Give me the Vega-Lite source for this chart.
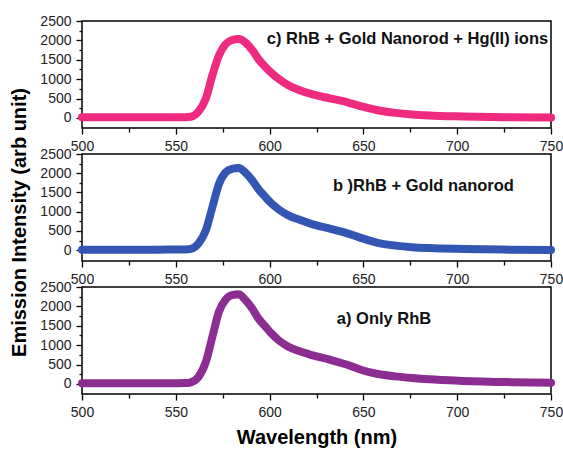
{
  "$schema": "https://vega.github.io/schema/vega-lite/v6.json",
  "padding": {"left": 9, "top": 13, "right": 0, "bottom": 4},
  "background": "white",
  "config": {
    "font": "Liberation Sans",
    "view": {"stroke": "#000", "strokeWidth": 1.5},
    "axis": {
      "labelFont": "Liberation Sans", "labelFontSize": 14, "labelColor": "#222", "labelOverlap": false, "labelFlush": false, "format": "d", "tickCount": 30,
      "domain": false, "grid": false, "tickColor": "#000", "tickWidth": 1.3,
      "titleFont": "Liberation Sans", "titleFontSize": 20, "titleFontWeight": "bold", "titleColor": "#000"
    }
  },
  "datasets": {
    "spectra": [
      {"s":"c","nm":500,"v":15},{"s":"c","nm":510,"v":15},{"s":"c","nm":520,"v":15},{"s":"c","nm":530,"v":15},{"s":"c","nm":540,"v":15},{"s":"c","nm":550,"v":18},{"s":"c","nm":555,"v":20},{"s":"c","nm":558,"v":32},{"s":"c","nm":562,"v":160},{"s":"c","nm":566,"v":500},{"s":"c","nm":569.5,"v":1100},{"s":"c","nm":573,"v":1610},{"s":"c","nm":576.5,"v":1900},{"s":"c","nm":580,"v":2010},{"s":"c","nm":583.5,"v":2035},{"s":"c","nm":587,"v":1950},{"s":"c","nm":591,"v":1735},{"s":"c","nm":594,"v":1520},{"s":"c","nm":598,"v":1300},{"s":"c","nm":601,"v":1160},{"s":"c","nm":605,"v":1000},{"s":"c","nm":610,"v":845},{"s":"c","nm":616,"v":715},{"s":"c","nm":623,"v":605},{"s":"c","nm":632,"v":505},{"s":"c","nm":641,"v":410},{"s":"c","nm":649,"v":300},{"s":"c","nm":657,"v":205},{"s":"c","nm":667,"v":130},{"s":"c","nm":676,"v":88},{"s":"c","nm":685,"v":62},{"s":"c","nm":703,"v":36},{"s":"c","nm":729,"v":15},{"s":"c","nm":750,"v":8},
      {"s":"b","nm":500,"v":10},{"s":"b","nm":510,"v":10},{"s":"b","nm":520,"v":12},{"s":"b","nm":530,"v":14},{"s":"b","nm":540,"v":15},{"s":"b","nm":550,"v":18},{"s":"b","nm":555,"v":20},{"s":"b","nm":558,"v":36},{"s":"b","nm":562,"v":170},{"s":"b","nm":566,"v":515},{"s":"b","nm":569.5,"v":1117},{"s":"b","nm":573,"v":1720},{"s":"b","nm":576.5,"v":2020},{"s":"b","nm":580,"v":2115},{"s":"b","nm":583.5,"v":2135},{"s":"b","nm":587,"v":2020},{"s":"b","nm":591,"v":1800},{"s":"b","nm":594,"v":1590},{"s":"b","nm":598,"v":1370},{"s":"b","nm":601,"v":1215},{"s":"b","nm":605,"v":1055},{"s":"b","nm":610,"v":905},{"s":"b","nm":616,"v":790},{"s":"b","nm":623,"v":672},{"s":"b","nm":632,"v":560},{"s":"b","nm":641,"v":445},{"s":"b","nm":649,"v":315},{"s":"b","nm":657,"v":200},{"s":"b","nm":667,"v":120},{"s":"b","nm":676,"v":78},{"s":"b","nm":685,"v":55},{"s":"b","nm":703,"v":32},{"s":"b","nm":729,"v":14},{"s":"b","nm":750,"v":8},
      {"s":"a","nm":500,"v":15},{"s":"a","nm":510,"v":15},{"s":"a","nm":520,"v":15},{"s":"a","nm":530,"v":15},{"s":"a","nm":540,"v":15},{"s":"a","nm":550,"v":18},{"s":"a","nm":555,"v":22},{"s":"a","nm":558,"v":42},{"s":"a","nm":562,"v":175},{"s":"a","nm":566,"v":565},{"s":"a","nm":569.5,"v":1215},{"s":"a","nm":573,"v":1867},{"s":"a","nm":576.5,"v":2170},{"s":"a","nm":580,"v":2290},{"s":"a","nm":583.5,"v":2310},{"s":"a","nm":587,"v":2170},{"s":"a","nm":591,"v":1927},{"s":"a","nm":594,"v":1690},{"s":"a","nm":598,"v":1465},{"s":"a","nm":601,"v":1300},{"s":"a","nm":605,"v":1120},{"s":"a","nm":610,"v":960},{"s":"a","nm":616,"v":840},{"s":"a","nm":623,"v":737},{"s":"a","nm":632,"v":625},{"s":"a","nm":641,"v":500},{"s":"a","nm":649,"v":360},{"s":"a","nm":657,"v":262},{"s":"a","nm":667,"v":195},{"s":"a","nm":676,"v":152},{"s":"a","nm":685,"v":118},{"s":"a","nm":703,"v":78},{"s":"a","nm":729,"v":46},{"s":"a","nm":750,"v":32}
    ]
  },
  "spacing": 26,
  "bounds": "flush",
  "vconcat": [
    {
      "width": 469, "height": 107,
      "layer": [
        {
          "data": {"name": "spectra"},
          "transform": [{"filter": "datum.s === 'c'"}],
          "mark": {"type": "line", "color": "#ee2b7e", "strokeWidth": 8, "interpolate": "monotone", "strokeCap": "round", "strokeJoin": "round"},
          "encoding": {
            "x": {"field": "nm", "type": "quantitative", "scale": {"domain": [500, 750], "nice": false, "zero": false},
              "axis": {"title": null, "tickCount": 30, "labelOverlap": false, "labelFlush": false, "values": [500,525,550,575,600,625,650,675,700,725,750], "labelExpr": "datum.value % 50 === 0 ? datum.label : ''", "tickSize": {"condition": {"test": "datum.value % 50 === 0", "value": 6}, "value": 4}, "labelPadding": 5}},
            "y": {"field": "v", "type": "quantitative", "scale": {"domain": [-260, 2500], "nice": false, "zero": false},
              "axis": {"title": null, "tickCount": 30, "labelOverlap": false, "labelFlush": false, "values": [0,250,500,750,1000,1250,1500,1750,2000,2250,2500], "labelExpr": "datum.value % 500 === 0 ? datum.label : ''", "tickSize": {"condition": {"test": "datum.value % 500 === 0", "value": 6}, "value": 3}, "labelPadding": 5}}
          }
        },
        {
          "data": {"values": [{"label": "c) RhB + Gold Nanorod + Hg(II) ions"}]},
          "mark": {"type": "text", "fontSize": 16.5, "fontWeight": "bold", "font": "Liberation Sans", "color": "#111", "align": "center", "baseline": "middle"},
          "encoding": {"text": {"field": "label"}, "x": {"datum": 673.5, "type": "quantitative"}, "y": {"datum": 2040, "type": "quantitative"}}
        }
      ]
    },
    {
      "width": 469, "height": 107,
      "layer": [
        {
          "data": {"name": "spectra"},
          "transform": [{"filter": "datum.s === 'b'"}],
          "mark": {"type": "line", "color": "#3456b3", "strokeWidth": 8, "interpolate": "monotone", "strokeCap": "round", "strokeJoin": "round"},
          "encoding": {
            "x": {"field": "nm", "type": "quantitative", "scale": {"domain": [500, 750], "nice": false, "zero": false},
              "axis": {"title": null, "tickCount": 30, "labelOverlap": false, "labelFlush": false, "values": [500,525,550,575,600,625,650,675,700,725,750], "labelExpr": "datum.value % 50 === 0 ? datum.label : ''", "tickSize": {"condition": {"test": "datum.value % 50 === 0", "value": 6}, "value": 4}, "labelPadding": 5}},
            "y": {"field": "v", "type": "quantitative", "scale": {"domain": [-280, 2500], "nice": false, "zero": false},
              "axis": {"title": "Emission Intensity (arb unit)", "titleY": 68, "titlePadding": 10, "tickCount": 30, "labelOverlap": false, "labelFlush": false, "values": [0,250,500,750,1000,1250,1500,1750,2000,2250,2500], "labelExpr": "datum.value % 500 === 0 ? datum.label : ''", "tickSize": {"condition": {"test": "datum.value % 500 === 0", "value": 6}, "value": 3}, "labelPadding": 5}}
          }
        },
        {
          "data": {"values": [{"label": "b )RhB + Gold nanorod"}]},
          "mark": {"type": "text", "fontSize": 16.5, "fontWeight": "bold", "font": "Liberation Sans", "color": "#111", "align": "center", "baseline": "middle"},
          "encoding": {"text": {"field": "label"}, "x": {"datum": 682, "type": "quantitative"}, "y": {"datum": 1675, "type": "quantitative"}}
        }
      ]
    },
    {
      "width": 469, "height": 107,
      "layer": [
        {
          "data": {"name": "spectra"},
          "transform": [{"filter": "datum.s === 'a'"}],
          "mark": {"type": "line", "color": "#8c2d92", "strokeWidth": 8, "interpolate": "monotone", "strokeCap": "round", "strokeJoin": "round"},
          "encoding": {
            "x": {"field": "nm", "type": "quantitative", "scale": {"domain": [500, 750], "nice": false, "zero": false},
              "axis": {"title": "Wavelength (nm)", "titlePadding": 8, "tickCount": 30, "labelOverlap": false, "labelFlush": false, "values": [500,525,550,575,600,625,650,675,700,725,750], "labelExpr": "datum.value % 50 === 0 ? datum.label : ''", "tickSize": {"condition": {"test": "datum.value % 50 === 0", "value": 6}, "value": 4}, "labelPadding": 5}},
            "y": {"field": "v", "type": "quantitative", "scale": {"domain": [-260, 2500], "nice": false, "zero": false},
              "axis": {"title": null, "tickCount": 30, "labelOverlap": false, "labelFlush": false, "values": [0,250,500,750,1000,1250,1500,1750,2000,2250,2500], "labelExpr": "datum.value % 500 === 0 ? datum.label : ''", "tickSize": {"condition": {"test": "datum.value % 500 === 0", "value": 6}, "value": 3}, "labelPadding": 5}}
          }
        },
        {
          "data": {"values": [{"label": "a) Only RhB"}]},
          "mark": {"type": "text", "fontSize": 16.5, "fontWeight": "bold", "font": "Liberation Sans", "color": "#111", "align": "center", "baseline": "middle"},
          "encoding": {"text": {"field": "label"}, "x": {"datum": 661, "type": "quantitative"}, "y": {"datum": 1685, "type": "quantitative"}}
        }
      ]
    }
  ]
}
